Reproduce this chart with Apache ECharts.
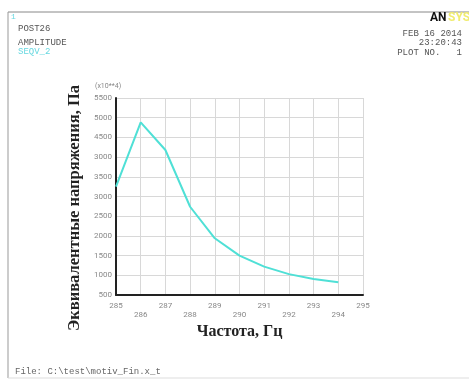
<!DOCTYPE html>
<html>
<head>
<meta charset="utf-8">
<script src="https://cdn.jsdelivr.net/npm/echarts@6/dist/echarts.min.js"></script>
<style>
  html, body { margin: 0; padding: 0; background: #fff; }
  #chart { width: 469px; height: 381px; }
</style>
</head>
<body>
<div id="chart"></div>
<script>
// frequency, Hz
const freqs = [285, 286, 287, 288, 289, 290, 291, 292, 293, 294]
// SEQV amplitude (x10**4 Pa)
const seqv = [3250, 4880, 4180, 2740, 1940, 1500, 1220, 1030, 905, 825]
// tick labels as printed on the plot
const yTickValues = [500, 1000, 1500, 2000, 2500, 3000, 3500, 4000, 4500, 5000, 5500]
const yTickLabels = ['500', '1000', '1500', '2000', '2500', '3000', '3500', '3000', '4500', '5000', '5500']
const yTitle = 'Эквивалентные напряжения, Па'

const chart = echarts.init(document.getElementById('chart'))

const mono = '"Liberation Mono", "DejaVu Sans Mono", monospace'
const serif = '"Liberation Serif", "DejaVu Serif", serif'

const option = {
  animation: false,
  backgroundColor: '#fff',
  grid: { left: 116, right: 106, top: 98, bottom: 86 },
  xAxis: {
    type: 'value',
    min: 285,
    max: 295,
    interval: 1,
    name: 'Частота, Гц',
    nameLocation: 'middle',
    nameGap: 27,
    nameTextStyle: { fontFamily: serif, fontWeight: 'bold', fontSize: 16, color: '#222' },
    axisLine: { show: true, onZero: false, lineStyle: { color: '#222', width: 2 } },
    axisTick: { show: false },
    splitLine: { show: true, lineStyle: { color: '#d8d8d8', width: 1 } },
    axisLabel: {
      fontSize: 8,
      color: '#888',
      fontFamily: 'Roboto, sans-serif',
      margin: 6,
      lineHeight: 9,
      formatter: (v) => ((v - 285) % 2 === 1 ? '\n' + v : v + '\n')
    }
  },
  yAxis: {
    type: 'value',
    min: 500,
    max: 5500,
    interval: 500,
    axisLine: { show: true, lineStyle: { color: '#222', width: 2 } },
    axisTick: { show: false },
    splitLine: { show: true, lineStyle: { color: '#d8d8d8', width: 1 } },
    axisLabel: {
      fontSize: 8,
      color: '#888',
      fontFamily: 'Roboto, sans-serif',
      margin: 4,
      formatter: (v) => {
        const i = yTickValues.indexOf(v)
        return i >= 0 ? yTickLabels[i] : ''
      }
    }
  },
  series: [
    {
      type: 'line',
      data: freqs.map((f, i) => [f, seqv[i]]),
      showSymbol: false,
      lineStyle: { color: '#4fe0d6', width: 2 },
      itemStyle: { color: '#4fe0d6' }
    }
  ],
  graphic: [
    // outer frame
    { type: 'line', shape: { x1: 8, y1: 12, x2: 469, y2: 12 }, style: { stroke: '#888', lineWidth: 1 } },
    { type: 'line', shape: { x1: 8, y1: 12, x2: 8, y2: 378 }, style: { stroke: '#999', lineWidth: 1 } },
    { type: 'line', shape: { x1: 8, y1: 378, x2: 469, y2: 378 }, style: { stroke: '#ddd', lineWidth: 1 } },
    // y axis title (sits a bit lower than the grid centre in the original)
    {
      type: 'text',
      x: 75,
      y: 208,
      rotation: Math.PI / 2,
      style: { text: yTitle, fontFamily: serif, fontWeight: 'bold', fontSize: 16.5, fill: '#222', align: 'center', verticalAlign: 'middle' }
    },
    // header left
    { type: 'text', left: 11, top: 13, style: { text: '1', fontSize: 8, fontFamily: mono, fill: '#66d8e0' } },
    { type: 'text', left: 18, top: 24, style: { text: 'POST26', fontSize: 9, fontFamily: mono, fill: '#555' } },
    { type: 'text', left: 18, top: 38, style: { text: 'AMPLITUDE', fontSize: 9, fontFamily: mono, fill: '#555' } },
    { type: 'text', left: 18, top: 47, style: { text: 'SEQV_2', fontSize: 9, fontFamily: mono, fill: '#66d8e0' } },
    // header right
    { type: 'text', left: 430, top: 12, style: { text: 'AN', fontSize: 12, fontWeight: 'bold', fontFamily: 'Roboto, sans-serif', fill: '#111' } },
    { type: 'text', left: 448, top: 12, style: { text: 'SYS', fontSize: 12, fontWeight: 'bold', fontFamily: 'Roboto, sans-serif', fill: '#f0ec70' } },
    { type: 'text', right: 7, top: 29, style: { text: 'FEB 16 2014', fontSize: 9, fontFamily: mono, fill: '#555', align: 'right' } },
    { type: 'text', right: 7, top: 38, style: { text: '23:20:43', fontSize: 9, fontFamily: mono, fill: '#555', align: 'right' } },
    { type: 'text', right: 7, top: 48, style: { text: 'PLOT NO.   1', fontSize: 9, fontFamily: mono, fill: '#555', align: 'right' } },
    // scale note
    { type: 'text', left: 95, top: 83, style: { text: '(x10**4)', fontSize: 7, fontFamily: 'Roboto, sans-serif', fill: '#888' } },
    // footer
    { type: 'text', left: 15, top: 367, style: { text: 'File: C:\\test\\motiv_Fin.x_t', fontSize: 9, fontFamily: mono, fill: '#666' } }
  ]
}

chart.setOption(option)
</script>
</body>
</html>
